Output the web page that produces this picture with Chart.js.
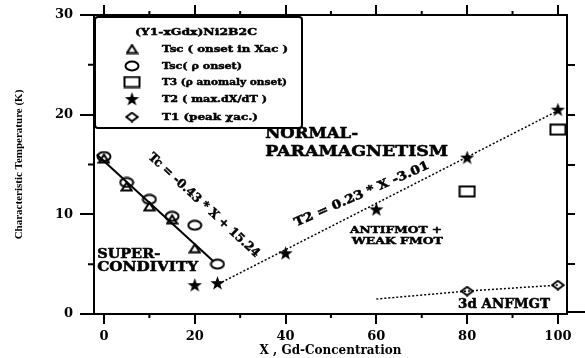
<!DOCTYPE html>
<html>
<head>
<meta charset="utf-8">
<script src="https://cdn.jsdelivr.net/npm/chart.js@4.4.0/dist/chart.umd.min.js"></script>
<style>
    html, body { margin: 0; padding: 0; background: #fff; }
</style>
</head>
<body>
<canvas id="chart" width="585" height="358"></canvas>
<script>
// (Y1-xGdx)Ni2B2C - characteristic temperatures vs Gd concentration

// Tsc (onset in Xac) - triangles
const tscAcX = [0, 5, 10, 15, 20];
const tscAcY = [15.6, 12.8, 10.8, 9.5, 6.6];

// Tsc (rho onset) - circles
const tscRhoX = [0, 5, 10, 15, 20, 25];
const tscRhoY = [15.8, 13.2, 11.5, 9.8, 8.9, 5.0];

// T3 (rho anomaly onset) - squares
const t3X = [80, 100];
const t3Y = [12.3, 18.5];

// T2 (max dX/dT) - stars
const t2X = [20, 25, 40, 60, 80, 100];
const t2Y = [2.9, 3.1, 6.1, 10.5, 15.7, 20.5];

// T1 (peak) - diamonds
const t1X = [80, 100];
const t1Y = [2.3, 2.9];

// Fit lines as drawn in the picture
const fitTcX = [-1.6, 24.1];
const fitTcY = [16.0, 5.3];
const fitT2X = [26, 100];
const fitT2Y = [3.2, 20.4];
const fitT1X = [60, 80, 100];
const fitT1Y = [1.5, 2.3, 2.9];

// Tick values
const xTicks = [0, 20, 40, 60, 80, 100];
const xMinorTicks = [10, 30, 50, 70, 90];
const yTicks = [0, 10, 20, 30];
const yMinorTicks = [5, 15, 25];
const rightTicks = [5, 10, 15, 20, 25];

const seriesLabels = [
    'Tsc ( onset in Xac )',
    'Tsc( \u03c1 onset)',
    'T3 (\u03c1 anomaly onset)',
    'T2 ( max.dX/dT )',
    'T1 (peak \u03c7ac.)'
];

const SERIF = '"DejaVu Serif", serif';

function points(xs, ys) {
    return xs.map((x, i) => ({ x: x, y: ys[i] }));
}

// Build marker images (open symbols, filled star)
function makeMarker(kind) {
    const sizes = { tri: [13, 11], circ: [16, 12], rect: [18, 13], star: [15, 14], diam: [14, 11] };
    const [w, h] = sizes[kind];
    const c = document.createElement('canvas');
    c.width = w;
    c.height = h;
    const g = c.getContext('2d');
    g.strokeStyle = '#000';
    g.fillStyle = '#000';
    g.lineWidth = 2;
    g.beginPath();
    if (kind === 'tri') {
        g.moveTo(w / 2, 1.5);
        g.lineTo(w - 1.5, h - 1.5);
        g.lineTo(1.5, h - 1.5);
        g.closePath();
        g.stroke();
    } else if (kind === 'circ') {
        g.ellipse(w / 2, h / 2, w / 2 - 1.5, h / 2 - 1.5, 0, 0, Math.PI * 2);
        g.stroke();
    } else if (kind === 'rect') {
        g.rect(1.5, 1.5, w - 3, h - 3);
        g.stroke();
    } else if (kind === 'diam') {
        g.moveTo(w / 2, 1.2);
        g.lineTo(w - 1.2, h / 2);
        g.lineTo(w / 2, h - 1.2);
        g.lineTo(1.2, h / 2);
        g.closePath();
        g.stroke();
    } else if (kind === 'star') {
        const cx = w / 2, cy = h / 2 + 0.5;
        for (let i = 0; i < 10; i++) {
            const r = i % 2 === 0 ? w / 2 : w / 5;
            const a = -Math.PI / 2 + i * Math.PI / 5;
            const px = cx + r * Math.cos(a), py = cy + r * Math.sin(a);
            if (i === 0) g.moveTo(px, py); else g.lineTo(px, py);
        }
        g.closePath();
        g.fill();
    }
    return c;
}

const markers = {
    tri: makeMarker('tri'),
    circ: makeMarker('circ'),
    rect: makeMarker('rect'),
    star: makeMarker('star'),
    diam: makeMarker('diam')
};

function markerSet(label, xs, ys, img) {
    return {
        label: label,
        data: points(xs, ys),
        pointStyle: img,
        pointRadius: 7,
        showLine: false
    };
}

function lineSet(xs, ys, dash, width) {
    return {
        label: '',
        data: points(xs, ys),
        showLine: true,
        pointRadius: 0,
        borderColor: '#000',
        borderWidth: width,
        borderDash: dash,
        fill: false
    };
}

// Draw text squeezed/stretched to a given width (slightly stroked, like the heavy print)
function drawFitted(ctx, text, x, y, width, size, rotation, align) {
    ctx.save();
    ctx.font = 'bold ' + size + 'px ' + SERIF;
    ctx.fillStyle = '#000';
    ctx.strokeStyle = '#000';
    ctx.lineWidth = 0.5;
    ctx.textBaseline = 'middle';
    ctx.textAlign = align || 'left';
    const m = ctx.measureText(text).width;
    ctx.translate(x, y);
    ctx.rotate(rotation || 0);
    ctx.scale(width / m, 1);
    ctx.fillText(text, 0, 0);
    ctx.strokeText(text, 0, 0);
    ctx.restore();
}

// Text notes placed in data coordinates
const notes = [
    { text: 'NORMAL-', x: 35.5, y: 18.0, w: 93, size: 14 },
    { text: 'PARAMAGNETISM', x: 35.5, y: 16.25, w: 183, size: 14 },
    { text: 'SUPER-', x: -1.5, y: 5.9, w: 63, size: 12 },
    { text: 'CONDIVITY', x: -1.5, y: 4.67, w: 101, size: 12 },
    { text: 'ANTIFMOT +', x: 54.2, y: 8.43, w: 92, size: 10 },
    { text: 'WEAK FMOT', x: 54.6, y: 7.32, w: 91, size: 10 },
    { text: '3d ANFMGT', x: 78.0, y: 0.9, w: 92, size: 12 },
    { text: 'Tc = -0.43 * X + 15.24', x: 22.0, y: 10.9, w: 147, size: 12, rot: 42.8, align: 'center' },
    { text: 'T2 = 0.23 * X -3.01', x: 56.8, y: 12.0, w: 146, size: 12, rot: -23.6, align: 'center' }
];

const notesPlugin = {
    id: 'notes',
    afterDatasetsDraw(chart) {
        const { ctx, scales } = chart;
        notes.forEach(n => {
            drawFitted(ctx, n.text, scales.x.getPixelForValue(n.x), scales.y.getPixelForValue(n.y),
                n.w, n.size, (n.rot || 0) * Math.PI / 180, n.align);
        });
    }
};

// Boxed legend in the upper left corner
const legendPlugin = {
    id: 'boxLegend',
    afterDraw(chart) {
        const ctx = chart.ctx;
        const a = chart.chartArea;
        const left = a.left + 1, top = a.top + 2, w = 207, h = 111;
        ctx.save();
        ctx.fillStyle = '#fff';
        ctx.strokeStyle = '#000';
        ctx.lineWidth = 2;
        ctx.beginPath();
        ctx.roundRect(left, top, w, h, 3);
        ctx.fill();
        ctx.stroke();
        drawFitted(ctx, '(Y1-xGdx)Ni2B2C', left + 101, top + 15, 122, 10, 0, 'center');
        const imgs = [markers.tri, markers.circ, markers.rect, markers.star, markers.diam];
        const rowY = [32, 49, 65, 82, 100];
        const widths = [126, 80, 125, 105, 96];
        seriesLabels.forEach((label, i) => {
            const img = imgs[i];
            ctx.drawImage(img, left + 37 - img.width / 2, top + rowY[i] - img.height / 2);
            drawFitted(ctx, label, left + 67, top + rowY[i], widths[i], 10, 0, 'left');
        });
        ctx.restore();
    }
};

// Minor tick marks on the frame, plus the short stub at the lower right corner
const minorTickPlugin = {
    id: 'minorTicks',
    afterDraw(chart) {
        const { ctx, scales } = chart;
        const a = chart.chartArea;
        ctx.save();
        ctx.strokeStyle = '#000';
        ctx.lineWidth = 2;
        ctx.beginPath();
        xMinorTicks.forEach(v => {
            const px = scales.x.getPixelForValue(v);
            ctx.moveTo(px, a.bottom);
            ctx.lineTo(px, a.bottom + 4);
            ctx.moveTo(px, a.top);
            ctx.lineTo(px, a.top - 4);
        });
        yMinorTicks.forEach(v => {
            const py = scales.y.getPixelForValue(v);
            ctx.moveTo(a.left - 6, py);
            ctx.lineTo(a.left, py);
        });
        ctx.moveTo(a.right, a.bottom - 2);
        ctx.lineTo(chart.width, a.bottom - 2);
        ctx.stroke();
        ctx.restore();
    }
};

const frameGrid = (len) => ({
    drawOnChartArea: false,
    drawTicks: true,
    tickLength: len,
    tickWidth: 2,
    tickColor: '#000',
    color: '#000',
    lineWidth: 2
});
const frameBorder = { display: true, color: '#000', width: 2 };
const tickFont = { family: SERIF, size: 13, weight: 'bold' };

const ctx = document.getElementById('chart');

new Chart(ctx, {
    type: 'scatter',
    data: {
        datasets: [
            markerSet(seriesLabels[0], tscAcX, tscAcY, markers.tri),
            markerSet(seriesLabels[1], tscRhoX, tscRhoY, markers.circ),
            markerSet(seriesLabels[2], t3X, t3Y, markers.rect),
            markerSet(seriesLabels[3], t2X, t2Y, markers.star),
            markerSet(seriesLabels[4], t1X, t1Y, markers.diam),
            lineSet(fitTcX, fitTcY, [], 2),
            lineSet(fitT2X, fitT2Y, [2, 2], 1.5),
            lineSet(fitT1X, fitT1Y, [2, 2], 1.5)
        ]
    },
    options: {
        responsive: false,
        animation: false,
        devicePixelRatio: 1,
        layout: { padding: 0 },
        plugins: {
            legend: { display: false },
            tooltip: { enabled: false }
        },
        scales: {
            x: {
                type: 'linear',
                position: 'bottom',
                min: -2.2,
                max: 102,
                afterBuildTicks: s => { s.ticks = xTicks.map(v => ({ value: v })); },
                afterFit: s => { s.height = 44; },
                ticks: { color: '#000', font: tickFont, padding: 5, maxRotation: 0, autoSkip: false },
                grid: frameGrid(10),
                border: frameBorder,
                title: {
                    display: true,
                    text: 'X , Gd-Concentration',
                    color: '#000',
                    font: { family: SERIF, size: 12, weight: 'bold' },
                    padding: { top: 0, bottom: 0 }
                }
            },
            x2: {
                type: 'linear',
                axis: 'x',
                position: 'top',
                min: -2.2,
                max: 102,
                afterBuildTicks: s => { s.ticks = xTicks.map(v => ({ value: v })); },
                afterFit: s => { s.height = 15; },
                ticks: { display: false },
                grid: frameGrid(10),
                border: frameBorder
            },
            y: {
                type: 'linear',
                position: 'left',
                min: 0,
                max: 30,
                afterBuildTicks: s => { s.ticks = yTicks.map(v => ({ value: v })); },
                afterFit: s => { s.width = 94; },
                ticks: { color: '#000', font: tickFont, padding: 7 },
                grid: frameGrid(14),
                border: frameBorder,
                title: {
                    display: true,
                    text: 'Characteristic Temperature (K)',
                    color: '#000',
                    font: { family: '"Liberation Serif", serif', size: 11, weight: 'bold' },
                    padding: { top: 13, bottom: 0 }
                }
            },
            y2: {
                type: 'linear',
                axis: 'y',
                position: 'right',
                min: 0,
                max: 30,
                afterBuildTicks: s => { s.ticks = rightTicks.map(v => ({ value: v })); },
                afterFit: s => { s.width = 18; },
                ticks: { display: false },
                grid: frameGrid(8),
                border: frameBorder
            }
        }
    },
    plugins: [minorTickPlugin, notesPlugin, legendPlugin]
});
</script>
</body>
</html>
